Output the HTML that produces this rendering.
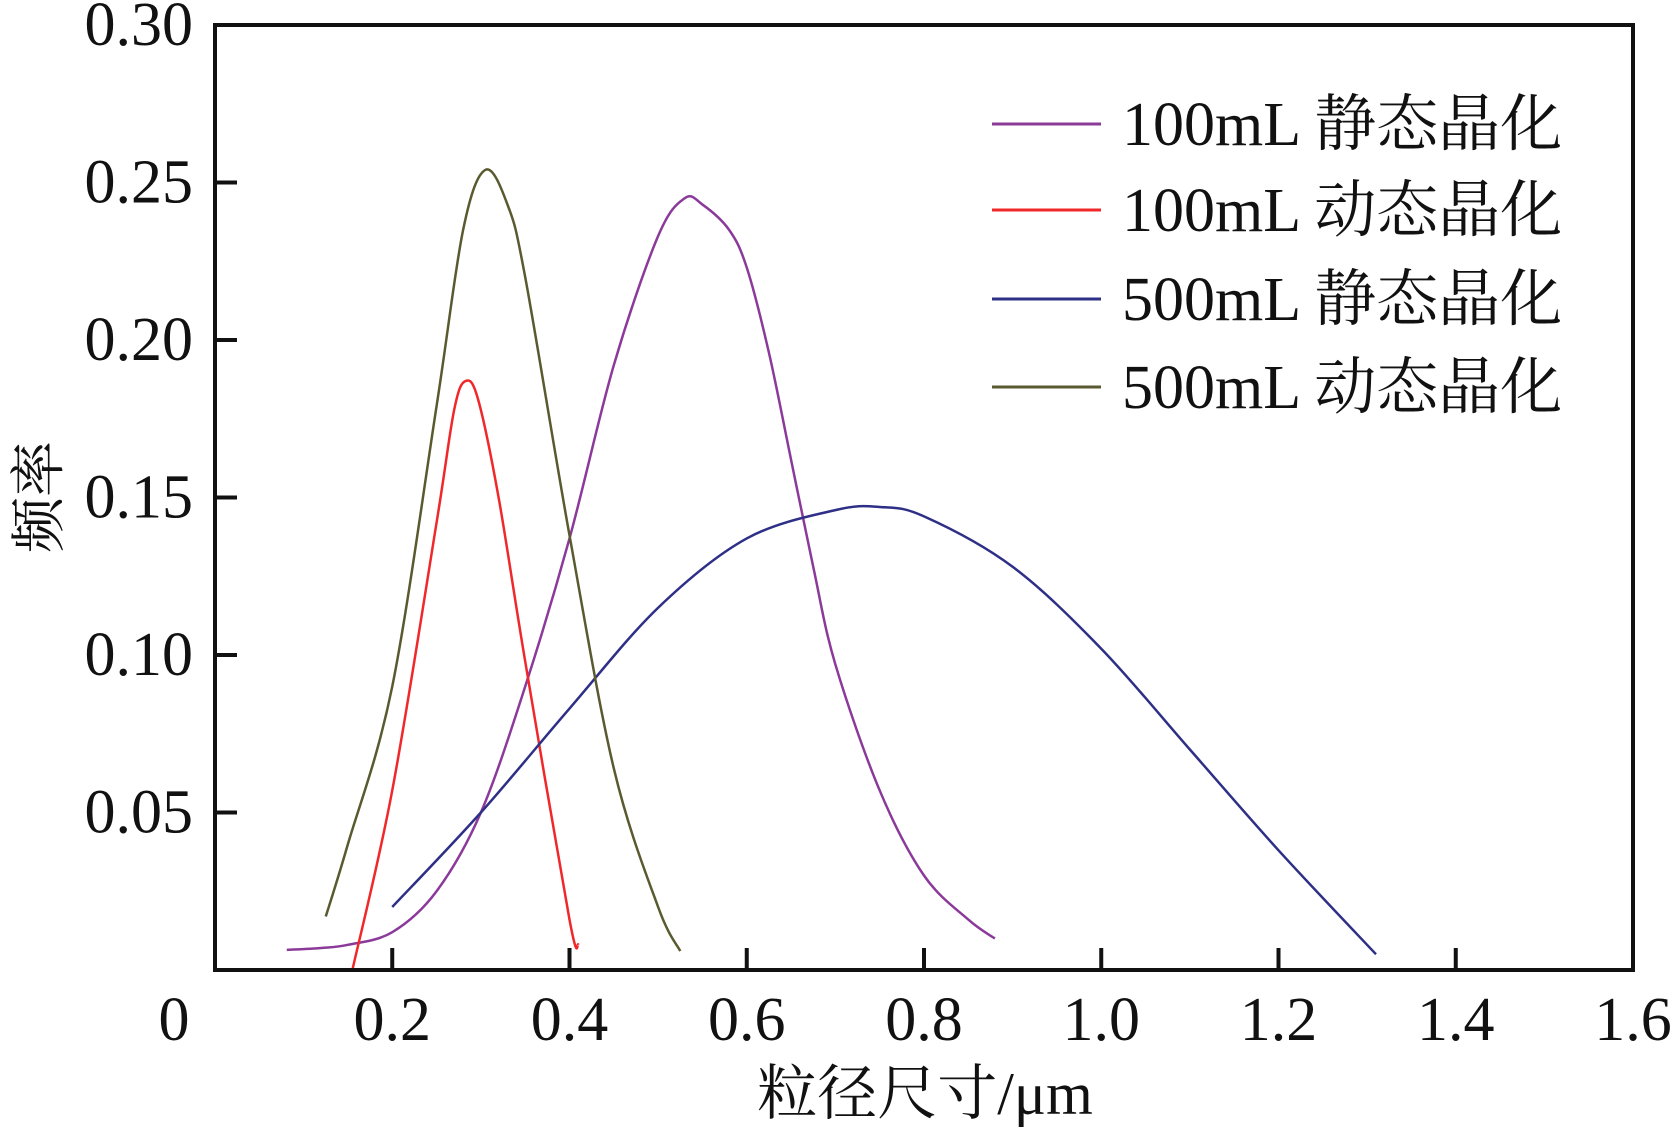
<!DOCTYPE html>
<html><head><meta charset="utf-8"><style>
body{margin:0;background:#fff;}
svg text{font-family:"Liberation Serif","Noto Serif CJK SC",serif;fill:#111;}
</style></head><body>
<svg width="1676" height="1136" viewBox="0 0 1676 1136">
<g id="plot"></g>
</svg>
<script>
const xTicks=[0.2,0.4,0.6,0.8,1.0,1.2,1.4];
const xTickLabels=["0","0.2","0.4","0.6","0.8","1.0","1.2","1.4","1.6"];
const yTicks=[0.05,0.10,0.15,0.20,0.25];
const yTickLabels=["0.05","0.10","0.15","0.20","0.25","0.30"];
const seriesNames=["100mL 静态晶化","100mL 动态晶化","500mL 静态晶化","500mL 动态晶化"];
const seriesColors=["#8b3a9a","#f0282a","#2e2f86","#5a5a30"];
const s1x=[0.081,0.12,0.15,0.2,0.25,0.3,0.35,0.4,0.45,0.5,0.53,0.55,0.58,0.6,0.625,0.65,0.675,0.7,0.75,0.8,0.85,0.88];
const s1y=[0.0064,0.007,0.008,0.012,0.025,0.05,0.09,0.137,0.192,0.233,0.245,0.243,0.235,0.223,0.196,0.162,0.128,0.097,0.057,0.03,0.016,0.01];
const s2x=[0.155,0.2,0.25,0.27,0.283,0.297,0.32,0.35,0.4,0.41];
const s2y=[0.0,0.057,0.142,0.178,0.187,0.181,0.15,0.098,0.016,0.008];
const s3x=[0.2,0.3,0.4,0.5,0.6,0.7,0.75,0.8,0.9,1.0,1.1,1.2,1.31];
const s3y=[0.02,0.05,0.083,0.115,0.137,0.146,0.147,0.144,0.128,0.102,0.07,0.038,0.005];
const s4x=[0.125,0.15,0.2,0.25,0.28,0.305,0.33,0.35,0.4,0.45,0.5,0.525];
const s4y=[0.017,0.04,0.09,0.179,0.235,0.254,0.243,0.22,0.138,0.064,0.02,0.006];
const series=[[s1x,s1y],[s2x,s2y],[s3x,s3y],[s4x,s4y]];

const L=215,R=1633,T=25,B=970;
const X=v=>L+(R-L)*v/1.6;
const Y=v=>B-(B-T)*v/0.30;
const NS="http://www.w3.org/2000/svg";
const g=document.getElementById('plot');
function mk(tag,attrs,parent){const e=document.createElementNS(NS,tag);for(const k in attrs)e.setAttribute(k,attrs[k]);(parent||g).appendChild(e);return e;}

series.forEach((s,i)=>{
  const pts=s[0].map((x,j)=>[X(x),Y(s[1][j])]);
  let d="M"+pts[0][0]+","+pts[0][1];
  for(let j=0;j<pts.length-1;j++){
    const p0=pts[Math.max(0,j-1)],p1=pts[j],p2=pts[j+1],p3=pts[Math.min(pts.length-1,j+2)];
    const c1=[p1[0]+(p2[0]-p0[0])/6,p1[1]+(p2[1]-p0[1])/6];
    const c2=[p2[0]-(p3[0]-p1[0])/6,p2[1]-(p3[1]-p1[1])/6];
    d+=` C${c1[0]},${c1[1]} ${c2[0]},${c2[1]} ${p2[0]},${p2[1]}`;
  }
  const p=mk('path',{d:d,fill:'none',stroke:seriesColors[i],'stroke-width':2.5});
  
  
});

const fr=mk('rect',{x:L,y:T,width:R-L,height:B-T,fill:'none',stroke:'#111','stroke-width':4});



xTicks.forEach(v=>{
  const t=mk('line',{x1:X(v),x2:X(v),y1:B,y2:B-22,stroke:'#111','stroke-width':4});
  
  
});
yTicks.forEach(v=>{
  const t=mk('line',{x1:L,x2:L+22,y1:Y(v),y2:Y(v),stroke:'#111','stroke-width':4});
  
  
});
xTickLabels.forEach((s,i)=>{
  const v=i*0.2;
  const t=mk('text',{x:i===0?174:X(v),y:1040,'font-size':62,'text-anchor':'middle'});
  t.textContent=s;
  
  
});
yTickLabels.forEach((s,i)=>{
  const v=(i+1)*0.05;
  const t=mk('text',{x:193,y:Y(v)+20,'font-size':62,'text-anchor':'end'});
  t.textContent=s;
  
  
});
const xt=mk('text',{x:925,y:1114,'font-size':60,'text-anchor':'middle'});
xt.textContent="粒径尺寸/μm";


const yt=mk('text',{x:0,y:0,'font-size':56,'text-anchor':'middle',transform:'translate(58,497) rotate(-90)'});
yt.textContent="频率";



const legY=[124,210,299,387];
seriesNames.forEach((n,i)=>{
  const l=mk('line',{x1:992,x2:1101,y1:legY[i],y2:legY[i],stroke:seriesColors[i],'stroke-width':3});
  
  
  const t=mk('text',{x:1122,y:legY[i]+21,'font-size':62});
  t.textContent=n;
  
  
});
</script>
</body></html>
